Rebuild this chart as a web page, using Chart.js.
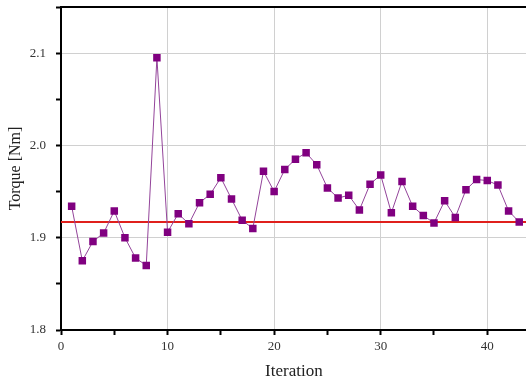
<!DOCTYPE html>
<html>
<head>
<meta charset="utf-8">
<script src="https://cdn.jsdelivr.net/npm/chart.js@4"></script>
<style>
  html, body { margin: 0; padding: 0; background: #fff; overflow: hidden; }
  #wrap { width: 532px; height: 382px; }
</style>
</head>
<body>
<div id="wrap"><canvas id="chart-torque"></canvas></div>
<script>
(function () {
  'use strict';

  var iterations = [1, 2, 3, 4, 5, 6, 7, 8, 9, 10, 11, 12, 13, 14, 15, 16, 17, 18, 19, 20, 21, 22,
    23, 24, 25, 26, 27, 28, 29, 30, 31, 32, 33, 34, 35, 36, 37, 38, 39, 40, 41, 42, 43];
  var torque = [1.934, 1.875, 1.896, 1.905, 1.929, 1.900, 1.878, 1.870, 2.095, 1.906, 1.926, 1.915,
    1.938, 1.947, 1.965, 1.942, 1.919, 1.910, 1.972, 1.950, 1.974, 1.985, 1.992, 1.979, 1.954,
    1.943, 1.946, 1.930, 1.958, 1.968, 1.927, 1.961, 1.934, 1.924, 1.916, 1.940, 1.922, 1.952,
    1.963, 1.962, 1.957, 1.929, 1.917];
  var meanTorque = 1.917;
  var xRange = [0, 43.7];
  var yRange = [1.8, 2.15];

  var serif = '"Liberation Serif", "DejaVu Serif", serif';

  function isMajor(v, step) {
    var r = v / step;
    return Math.abs(r - Math.round(r)) < 1e-6;
  }

  var topBorder = {
    id: 'topBorder',
    afterDraw: function (chart) {
      var a = chart.chartArea;
      var ctx = chart.ctx;
      ctx.save();
      ctx.strokeStyle = '#000';
      ctx.lineWidth = 2;
      ctx.beginPath();
      ctx.moveTo(a.left - 1, a.top);
      ctx.lineTo(a.right, a.top);
      ctx.stroke();
      ctx.restore();
    }
  };

  new Chart(document.getElementById('chart-torque'), {
    type: 'scatter',
    data: {
      datasets: [
        {
          label: 'Torque',
          data: iterations.map(function (it, i) { return { x: it, y: torque[i] }; }),
          showLine: true,
          borderColor: '#93449a',
          borderWidth: 1,
          backgroundColor: '#800080',
          pointBackgroundColor: '#800080',
          pointBorderWidth: 0,
          pointStyle: 'rect',
          pointRadius: 5.3,
          order: 1
        },
        {
          label: 'Mean',
          data: xRange.map(function (x) { return { x: x, y: meanTorque }; }),
          showLine: true,
          borderColor: '#e0201c',
          borderWidth: 2,
          pointRadius: 0,
          order: 2
        }
      ]
    },
    options: {
      responsive: true,
      maintainAspectRatio: false,
      animation: false,
      layout: { padding: { top: 7, right: 0, left: 0, bottom: 0 } },
      plugins: { legend: { display: false }, tooltip: { enabled: false } },
      scales: {
        x: {
          type: 'linear',
          min: xRange[0],
          max: xRange[1],
          afterFit: function (s) { s.height = 52; s.paddingLeft = 0; s.paddingRight = 0; },
          border: { color: '#000', width: 2 },
          grid: {
            color: function (c) { return c.tick && c.tick.value !== 0 && isMajor(c.tick.value, 10) ? '#d0d0d0' : 'rgba(0,0,0,0)'; },
            tickColor: '#000',
            tickLength: 5,
            tickWidth: 2
          },
          ticks: {
            stepSize: 5,
            includeBounds: false,
            autoSkip: false,
            maxRotation: 0,
            padding: 4,
            color: '#333',
            font: { family: serif, size: 13 },
            callback: function (v) { return isMajor(v, 10) ? String(v) : ''; }
          },
          title: {
            display: true,
            text: 'Iteration',
            color: '#222',
            font: { family: serif, size: 17 },
            padding: { top: 2, bottom: 0 }
          }
        },
        y: {
          type: 'linear',
          min: yRange[0],
          max: yRange[1],
          afterFit: function (s) { s.width = 61; s.paddingTop = 0; s.paddingBottom = 0; },
          border: { color: '#000', width: 2 },
          grid: {
            color: function (c) { return c.tick && c.tick.value > 1.85 && isMajor(c.tick.value, 0.1) ? '#d0d0d0' : 'rgba(0,0,0,0)'; },
            tickColor: '#000',
            tickLength: 5,
            tickWidth: 2
          },
          ticks: {
            stepSize: 0.05,
            includeBounds: false,
            autoSkip: false,
            padding: 10,
            color: '#333',
            font: { family: serif, size: 13 },
            callback: function (v) { return isMajor(v, 0.1) ? v.toFixed(1) : ''; }
          },
          title: {
            display: true,
            text: 'Torque [Nm]',
            color: '#222',
            font: { family: serif, size: 16 },
            padding: { top: 6, bottom: 0 }
          }
        }
      }
    },
    plugins: [topBorder]
  });
})();
</script>
</body>
</html>
